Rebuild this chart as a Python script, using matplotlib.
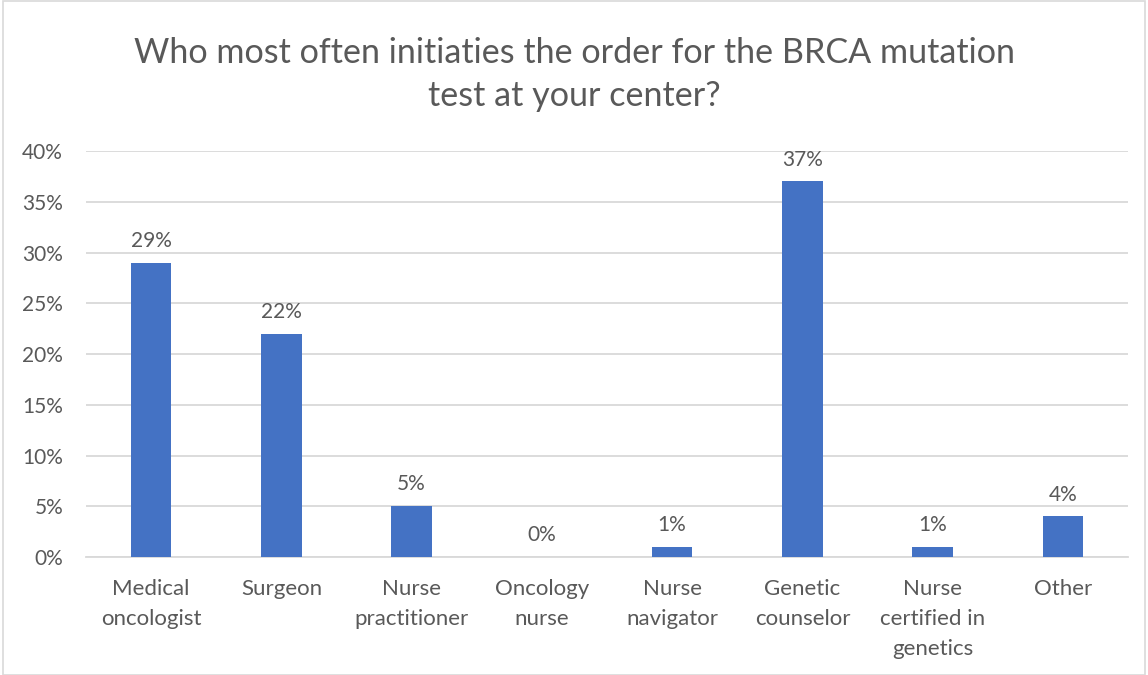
import matplotlib.pyplot as plt
from matplotlib.patches import Rectangle
from matplotlib.ticker import MultipleLocator, FuncFormatter

categories = ["Medical\noncologist", "Surgeon", "Nurse\npractitioner", "Oncology\nnurse",
              "Nurse\nnavigator", "Genetic\ncounselor", "Nurse\ncertified in\ngenetics", "Other"]
values = [29, 22, 5, 0, 1, 37, 1, 4]

title = "Who most often initiaties the order for the BRCA mutation\ntest at your center?"

text_color = "#595959"
bar_color = "#4472C4"
grid_color = "#D9D9D9"

plt.rcParams['font.family'] = ['Lato', 'DejaVu Sans']

fig = plt.figure(figsize=(11.48, 6.75), dpi=100)
ax = fig.add_axes([0.0749, 0.1748, 0.9077, 0.6015])

x = range(len(categories))
bars = ax.bar(x, values, width=0.31, color=bar_color, zorder=3)

for xi, v in zip(x, values):
    ax.annotate(f"{v}%", (xi, v), xytext=(0, 8.5), textcoords="offset points",
                ha="center", va="bottom", fontsize=15, color=text_color)

ax.set_xlim(-0.5, len(categories) - 0.5)
ax.set_ylim(0, 40)
ax.yaxis.set_major_locator(MultipleLocator(5))
ax.yaxis.set_major_formatter(FuncFormatter(lambda v, p: f"{v:.0f}%"))
ax.grid(axis="y", color=grid_color, linewidth=1.3, zorder=0)

ax.set_xticks(list(x))
ax.set_xticklabels(categories, fontsize=16, color=text_color)
for lbl in ax.get_xticklabels():
    lbl.set_linespacing(1.62)
ax.tick_params(axis="x", length=0, pad=16)
ax.tick_params(axis="y", length=0, pad=16.5, labelsize=15, labelcolor=text_color)

for side in ["top", "right", "left"]:
    ax.spines[side].set_visible(False)
ax.spines["bottom"].set_color(grid_color)
ax.spines["bottom"].set_linewidth(1.3)

fig.text(0.5, 0.89, title, ha="center", va="center", fontsize=24.6,
         color=text_color, linespacing=1.42)

fig.patches.append(Rectangle((0.003, 0.0), 0.994, 0.998, transform=fig.transFigure,
                             fill=False, edgecolor=grid_color, linewidth=1.2))

fig.savefig("out.png", dpi=100)
